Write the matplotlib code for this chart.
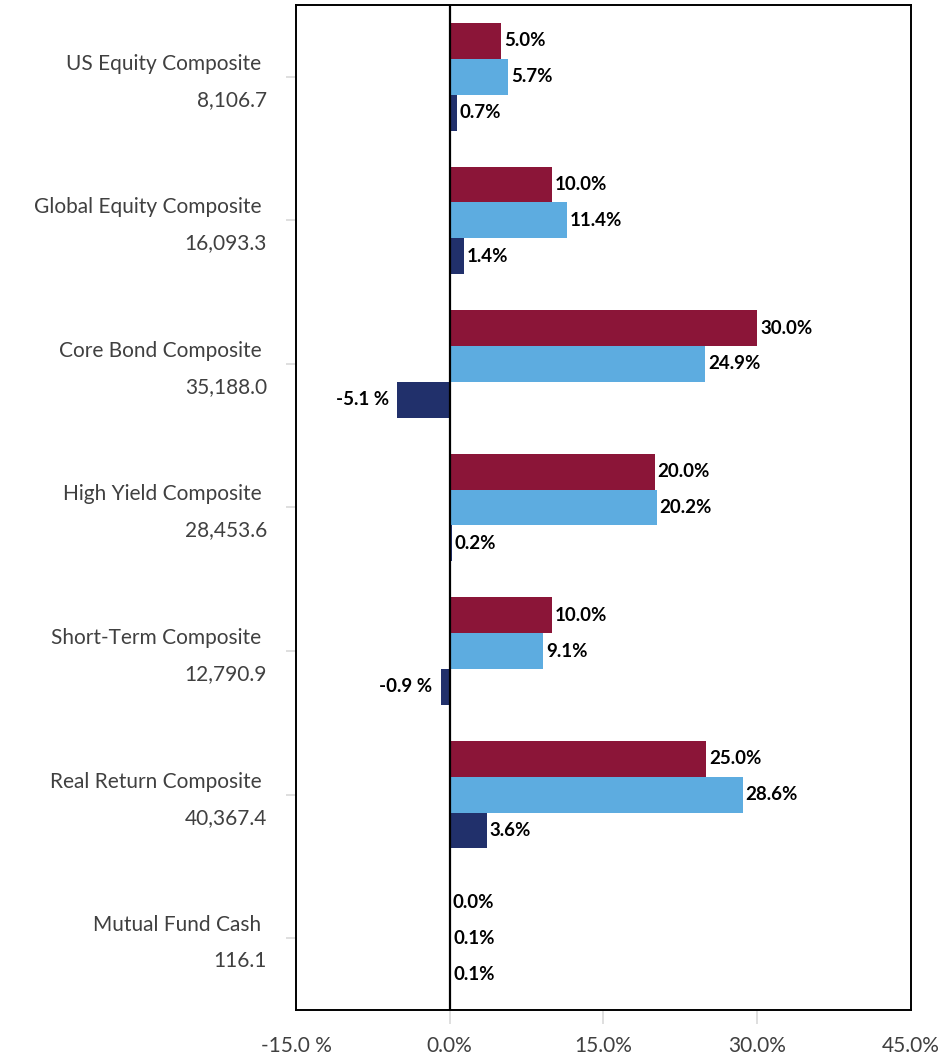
import matplotlib as mpl
mpl.use('Agg')
import matplotlib.pyplot as plt
from matplotlib.transforms import offset_copy
import numpy as np

plt.rcParams['font.family'] = ['Lato', 'DejaVu Sans']

composites = ["US Equity Composite", "Global Equity Composite", "Core Bond Composite",
              "High Yield Composite", "Short-Term Composite", "Real Return Composite",
              "Mutual Fund Cash"]
market_values = ["8,106.7", "16,093.3", "35,188.0", "28,453.6", "12,790.9", "40,367.4", "116.1"]
target_alloc = [5.0, 10.0, 30.0, 20.0, 10.0, 25.0, 0.0]
actual_alloc = [5.7, 11.4, 24.9, 20.2, 9.1, 28.6, 0.1]
variance = [0.7, 1.4, -5.1, 0.2, -0.9, 3.6, 0.1]
xticks = [-15, 0, 15, 30, 45]
xtick_labels = ["-15.0 %", "0.0%", "15.0%", "30.0%", "45.0%"]

series = [(target_alloc, "#8B1538"), (actual_alloc, "#5DACE0"), (variance, "#21306B")]


def pct(v):
    return f"{v:.1f} %" if v < 0 else f"{v:.1f}%"


fig = plt.figure(figsize=(9.39, 10.61), dpi=100)
ax = fig.add_axes([0.3152, 0.0481, 0.6550, 0.9472])

y = np.arange(len(composites))
h = 0.25
for k, (vals, col) in enumerate(series):
    pos = y + (k - 1) * h
    ax.barh(pos, vals, height=h, color=col, zorder=2)
    for yy, v in zip(pos, vals):
        if v < 0:
            ax.annotate(pct(v), (v, yy), xytext=(-6, 0), textcoords="offset points",
                        ha="right", va="center", fontsize=13.5, fontweight="bold")
        else:
            ax.annotate(pct(v), (v, yy), xytext=(2, 0), textcoords="offset points",
                        ha="left", va="center", fontsize=13.5, fontweight="bold")

ax.axvline(0, color="black", lw=1.6, zorder=3)

ax.set_xlim(-15, 45)
ax.set_ylim(len(composites) - 0.5, -0.5)
ax.set_xticks(xticks)
ax.set_xticklabels(xtick_labels)
ax.set_yticks(y)
ax.set_yticklabels([f"{c} \n{m}" for c, m in zip(composites, market_values)],
                   ha="right", multialignment="right", linespacing=2.0)

ax.tick_params(axis="x", length=10, width=1.2, color="#d9d9d9", pad=9,
               labelsize=15, labelcolor="#404040")
ax.tick_params(axis="y", length=7, width=1.2, color="#d9d9d9", pad=14,
               labelsize=15, labelcolor="#404040")
xt = ax.xaxis.get_major_ticks()
xt[0].tick1line.set_visible(False)
xt[-1].tick1line.set_visible(False)

# nudge the two-line category labels up so they sit centred on the tick
for lbl in ax.get_yticklabels():
    lbl.set_transform(offset_copy(lbl.get_transform(), fig=fig, y=5, units="dots"))

for s in ax.spines.values():
    s.set_linewidth(1.4)
    s.set_color("black")

fig.savefig("out.png", dpi=100)
